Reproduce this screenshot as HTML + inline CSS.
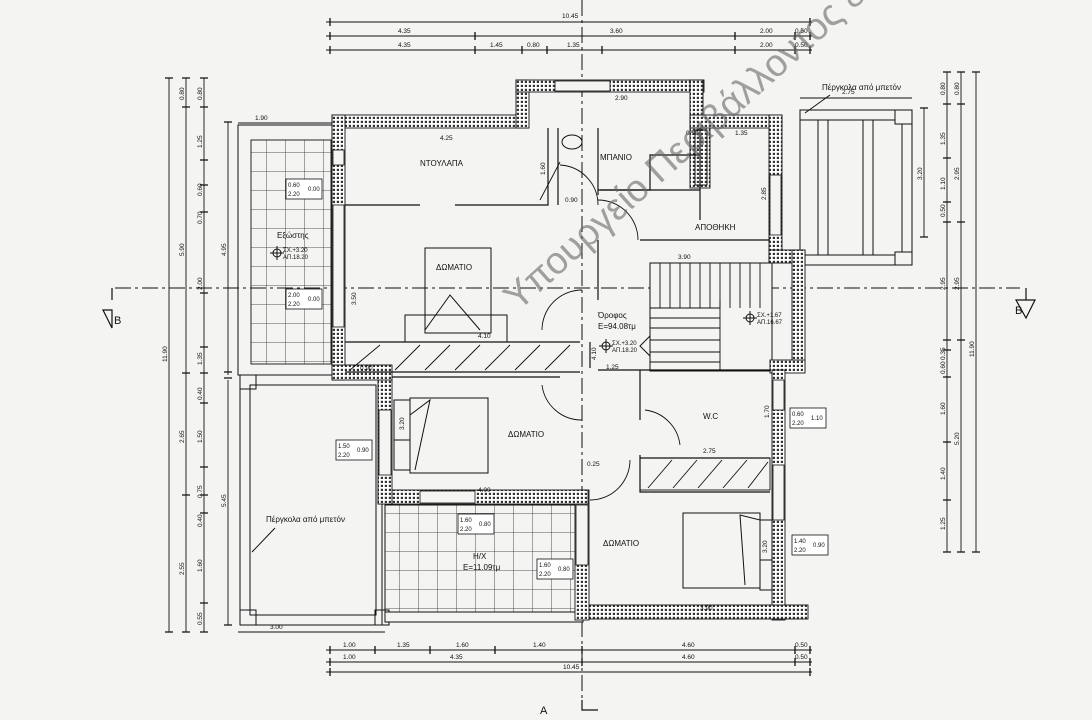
<!DOCTYPE html>
<html><head><meta charset="utf-8"><style>
html,body{margin:0;padding:0;background:#f4f4f2;}
svg{display:block}
text{font-family:"Liberation Sans",sans-serif;fill:#111}
.d{font-size:6.5px}
.l{font-size:8px}
</style></head><body>
<svg width="1092" height="720" viewBox="0 0 1092 720" xmlns="http://www.w3.org/2000/svg">
<defs>
<pattern id="w" width="4" height="4" patternUnits="userSpaceOnUse">
<rect width="4" height="4" fill="#fff"/><rect x="0.8" y="0.8" width="2.2" height="2.2" fill="#333"/>
</pattern>
<pattern id="g" width="19" height="19" patternUnits="userSpaceOnUse">
<path d="M0 0H19M0 0V19" stroke="#222" stroke-width="0.8" fill="none"/>
</pattern>
</defs>
<rect width="1092" height="720" fill="#f4f4f2"/>

<g stroke="#111" stroke-width="1" stroke-dasharray="16,4,3,4" fill="none">
<line x1="582" y1="0" x2="582" y2="700"/>
<line x1="115" y1="288" x2="1020" y2="288"/>
</g>
<g stroke="#111" stroke-width="1.2" fill="none">
<path d="M112 288V300M1026 288V300"/>
<path d="M103 310L112 328V310ZM1016 300L1035 300L1026 318Z"/>
<path d="M582 700V710H598"/>
</g>
<text x="114" y="324" font-size="11">B</text>
<text x="1015" y="314" font-size="11">B</text>
<text x="540" y="714" font-size="11">A</text>

<g stroke="#111" stroke-width="0.9">
<line x1="326" y1="22" x2="812" y2="22"/>
<line x1="326" y1="36" x2="812" y2="36"/>
<line x1="326" y1="50" x2="812" y2="50"/>
<line x1="326" y1="650" x2="812" y2="650"/>
<line x1="326" y1="662" x2="812" y2="662"/>
<line x1="326" y1="672" x2="812" y2="672"/>
<line x1="169" y1="78" x2="169" y2="632"/>
<line x1="186" y1="78" x2="186" y2="632"/>
<line x1="204" y1="78" x2="204" y2="632"/>
<line x1="228" y1="122" x2="228" y2="375"/>
<line x1="228" y1="380" x2="228" y2="625"/>
<line x1="947" y1="72" x2="947" y2="552"/>
<line x1="961" y1="72" x2="961" y2="552"/>
<line x1="976" y1="72" x2="976" y2="552"/>
<line x1="924" y1="108" x2="924" y2="237"/>
<line x1="238" y1="123" x2="332" y2="123"/>
<line x1="238" y1="632" x2="385" y2="632"/>
<line x1="800" y1="98" x2="912" y2="98"/>
</g>
<g stroke="#111" stroke-width="1.3">
<path d="M330 18v8M810 18v8M330 32v8M475 32v8M735 32v8M795 32v8M810 32v8M330 46v8M475 46v8M522 46v8M547 46v8M602 46v8M735 46v8M795 46v8M810 46v8"/>
<path d="M330 646v8M375 646v8M430 646v8M495 646v8M582 646v8M795 646v8M810 646v8M330 658v8M582 658v8M795 658v8M810 658v8M330 668v8M810 668v8"/>
<path d="M165 78h8M182 78h8M200 78h8M182 107h8M200 107h8M200 160h8M200 185h8M200 212h8M200 293h8M200 347h8M182 373h8M200 373h8M200 403h8M200 467h8M182 495h8M200 495h8M200 513h8M200 603h8M165 632h8M182 632h8M200 632h8"/>
<path d="M943 72h8M957 72h8M972 72h8M943 104h8M957 104h8M943 158h8M943 202h8M943 222h8M957 222h8M943 340h8M957 340h8M943 350h8M943 377h8M943 442h8M943 500h8M943 552h8M957 552h8M972 552h8"/>
<path d="M224 122h8M224 372h8M224 378h8M224 625h8M920 108h8M920 237h8"/>
</g>
<g class="d">
<text x="562" y="18">10.45</text>
<text x="398" y="33">4.35</text><text x="610" y="33">3.60</text><text x="760" y="33">2.00</text><text x="795" y="33">0.50</text>
<text x="398" y="47">4.35</text><text x="490" y="47">1.45</text><text x="527" y="47">0.80</text><text x="567" y="47">1.35</text><text x="760" y="47">2.00</text><text x="795" y="47">0.50</text>
<text x="343" y="647">1.00</text><text x="397" y="647">1.35</text><text x="456" y="647">1.60</text><text x="533" y="647">1.40</text><text x="682" y="647">4.60</text><text x="795" y="647">0.50</text>
<text x="343" y="659">1.00</text><text x="450" y="659">4.35</text><text x="682" y="659">4.60</text><text x="795" y="659">0.50</text>
<text x="563" y="669">10.45</text>
<text x="270" y="629">3.00</text>
<text x="255" y="120">1.90</text>
<text x="842" y="94">2.75</text>
</g>
<g class="d">
<text transform="translate(184,100) rotate(-90)">0.80</text>
<text transform="translate(202,100) rotate(-90)">0.80</text>
<text transform="translate(202,148) rotate(-90)">1.25</text>
<text transform="translate(202,196) rotate(-90)">0.60</text>
<text transform="translate(202,224) rotate(-90)">0.70</text>
<text transform="translate(184,256) rotate(-90)">5.90</text>
<text transform="translate(202,290) rotate(-90)">2.00</text>
<text transform="translate(226,256) rotate(-90)">4.95</text>
<text transform="translate(167,362) rotate(-90)">11.90</text>
<text transform="translate(202,365) rotate(-90)">1.35</text>
<text transform="translate(202,400) rotate(-90)">0.40</text>
<text transform="translate(202,443) rotate(-90)">1.50</text>
<text transform="translate(184,443) rotate(-90)">2.65</text>
<text transform="translate(202,498) rotate(-90)">0.75</text>
<text transform="translate(202,527) rotate(-90)">0.40</text>
<text transform="translate(226,507) rotate(-90)">5.45</text>
<text transform="translate(202,572) rotate(-90)">1.60</text>
<text transform="translate(184,575) rotate(-90)">2.55</text>
<text transform="translate(202,625) rotate(-90)">0.55</text>
<text transform="translate(945,95) rotate(-90)">0.80</text>
<text transform="translate(959,95) rotate(-90)">0.80</text>
<text transform="translate(945,145) rotate(-90)">1.35</text>
<text transform="translate(945,190) rotate(-90)">1.10</text>
<text transform="translate(959,180) rotate(-90)">2.95</text>
<text transform="translate(922,180) rotate(-90)">3.20</text>
<text transform="translate(945,217) rotate(-90)">0.50</text>
<text transform="translate(945,290) rotate(-90)">2.95</text>
<text transform="translate(959,290) rotate(-90)">2.95</text>
<text transform="translate(974,357) rotate(-90)">11.90</text>
<text transform="translate(945,360) rotate(-90)">0.35</text>
<text transform="translate(945,374) rotate(-90)">0.60</text>
<text transform="translate(945,415) rotate(-90)">1.60</text>
<text transform="translate(959,445) rotate(-90)">5.20</text>
<text transform="translate(945,480) rotate(-90)">1.40</text>
<text transform="translate(945,530) rotate(-90)">1.25</text>
</g>

<rect x="238" y="125" width="94" height="250" fill="none" stroke="#111" stroke-width="1"/>
<rect x="251" y="140" width="80" height="224" fill="url(#g)" stroke="#111" stroke-width="0.9"/>
<g fill="none" stroke="#111" stroke-width="1">
<rect x="240" y="375" width="142" height="250"/>
<rect x="250" y="385" width="126" height="230"/>
<rect x="240" y="375" width="16" height="14"/>
<rect x="240" y="610" width="16" height="15"/>
<rect x="375" y="610" width="14" height="15"/>
<line x1="252" y1="552" x2="275" y2="528"/>
</g>
<text x="266" y="522" class="l">Πέργκολα από μπετόν</text>
<g fill="none" stroke="#111" stroke-width="1">
<rect x="800" y="110" width="112" height="155"/>
<rect x="895" y="110" width="17" height="14"/><rect x="895" y="252" width="17" height="13"/>
<line x1="818" y1="120" x2="818" y2="255"/><line x1="828" y1="120" x2="828" y2="255"/>
<line x1="863" y1="120" x2="863" y2="255"/><line x1="873" y1="120" x2="873" y2="255"/>
<line x1="800" y1="120" x2="895" y2="120"/><line x1="800" y1="255" x2="895" y2="255"/>
<line x1="902" y1="124" x2="902" y2="252"/>
<line x1="805" y1="113" x2="830" y2="95"/>
</g>
<text x="822" y="90" class="l">Πέργκολα από μπετόν</text>
<rect x="385" y="505" width="198" height="115" fill="url(#g)" stroke="#111" stroke-width="1"/>
<rect x="385" y="612" width="198" height="10" fill="#f4f4f2" stroke="#111" stroke-width="1"/>

<rect x="650" y="263" width="122" height="108" fill="#f4f4f2" stroke="#111"/>
<g stroke="#111" stroke-width="0.9">
<path d="M660 263v45M670 263v45M680 263v45M690 263v45M700 263v45M710 263v45M720 263v45M730 263v45M740 263v45M750 263v45M760 263v45"/>
<path d="M650 308h70M650 318h70M650 328h70M650 340h70M650 352h70M650 362h70M720 300v71"/>
</g>

<g fill="url(#w)" stroke="#111" stroke-width="0.9">
<rect x="332" y="115" width="196" height="13"/>
<rect x="516" y="80" width="13" height="48"/>
<rect x="516" y="80" width="188" height="12"/>
<rect x="690" y="80" width="13" height="48"/>
<rect x="690" y="115" width="92" height="13"/>
<rect x="769" y="115" width="13" height="145"/>
<rect x="769" y="250" width="36" height="13"/>
<rect x="792" y="250" width="13" height="120"/>
<rect x="770" y="360" width="35" height="13"/>
<rect x="772" y="370" width="13" height="250"/>
<rect x="578" y="605" width="230" height="14"/>
<rect x="575" y="490" width="14" height="130"/>
<rect x="378" y="490" width="210" height="14"/>
<rect x="378" y="375" width="14" height="129"/>
<rect x="332" y="115" width="13" height="265"/>
<rect x="332" y="365" width="60" height="15"/>
<rect x="690" y="128" width="20" height="60"/>
</g>
<g fill="#f4f4f2" stroke="#111" stroke-width="0.8">
<rect x="333" y="150" width="11" height="15"/><rect x="333" y="205" width="11" height="122"/>
<rect x="379" y="410" width="12" height="65"/>
<rect x="420" y="491" width="55" height="12"/>
<rect x="576" y="505" width="12" height="60"/>
<rect x="773" y="380" width="11" height="30"/>
<rect x="773" y="465" width="11" height="55"/>
<rect x="770" y="175" width="11" height="60"/>
<rect x="555" y="81" width="55" height="10"/>
</g>

<g fill="none" stroke="#111" stroke-width="1.2">
<path d="M345 205H420M455 205H548V128"/>
<path d="M558 128V205"/>
<path d="M598 128V195M598 240V300M590 342V368"/>
<path d="M598 190H650V155H700"/>
<path d="M700 128V220M600 190H700"/>
<path d="M640 240H770"/>
<path d="M598 370H770M640 370V420M640 455V492H770"/>
<path d="M345 342H580M345 372H580"/>
<path d="M640 458H770"/>
<path d="M392 377H560"/>
</g>
<g stroke="#111" stroke-width="0.9" fill="none">
<path d="M350 370L380 345M395 370L420 345M425 370L450 345M455 370L480 345M485 370L510 345M515 370L540 345M545 370L570 345"/>
<rect x="640" y="458" width="130" height="32"/>
<path d="M648 488L672 460M673 488L697 460M698 488L722 460M723 488L747 460M748 488L768 462"/>
</g>
<g stroke="#111" stroke-width="0.9" fill="none">
<path d="M560 165A40 40 0 0 1 598 205"/>
<path d="M598 200A40 40 0 0 1 638 240"/>
<path d="M542 330A40 40 0 0 1 582 290"/>
<path d="M542 385A40 40 0 0 0 582 420"/>
<path d="M645 410A40 40 0 0 1 680 445"/>
<path d="M590 500A40 40 0 0 0 630 460"/>
<path d="M540 200L560 162"/>
</g>
<g stroke="#111" stroke-width="1" fill="none">
<rect x="425" y="248" width="66" height="85"/>
<path d="M425 330L450 295L480 330"/>
<rect x="405" y="315" width="102" height="27"/>
<rect x="410" y="398" width="78" height="75"/>
<path d="M410 415L430 400L415 470"/>
<rect x="394" y="400" width="16" height="40"/><rect x="394" y="440" width="16" height="30"/>
<rect x="683" y="513" width="77" height="75"/>
<path d="M760 520L740 515L745 585"/>
<rect x="760" y="520" width="12" height="40"/><rect x="760" y="560" width="12" height="30"/>
<ellipse cx="572" cy="142" rx="10" ry="7"/>
<rect x="695" y="130" width="12" height="55"/>
</g>

<g class="l">
<text x="420" y="166">ΝΤΟΥΛΑΠΑ</text>
<text x="600" y="160">ΜΠΑΝΙΟ</text>
<text x="695" y="230">ΑΠΟΘΗΚΗ</text>
<text x="436" y="270">ΔΩΜΑΤΙΟ</text>
<text x="508" y="437">ΔΩΜΑΤΙΟ</text>
<text x="603" y="546">ΔΩΜΑΤΙΟ</text>
<text x="703" y="419">W.C</text>
<text x="277" y="238">Εξώστης</text>
<text x="598" y="318">Όροφος</text>
<text x="598" y="329">E=94.08τμ</text>
<text x="473" y="559">Η/Χ</text>
<text x="463" y="570">E=11.09τμ</text>
</g>
<g class="d">
<text x="440" y="140">4.25</text><text x="615" y="100">2.90</text><text x="735" y="135">1.35</text><text x="686" y="135">0.90</text>
<text x="565" y="202">0.90</text><text x="678" y="259">3.90</text><text x="360" y="370">0.90</text><text x="606" y="369">1.25</text>
<text x="478" y="492">4.00</text><text x="703" y="453">2.75</text><text x="587" y="466">0.25</text><text x="700" y="610">3.90</text>
<text transform="translate(545,175) rotate(-90)">1.60</text>
<text transform="translate(766,200) rotate(-90)">2.85</text>
<text transform="translate(356,305) rotate(-90)">3.50</text>
<text transform="translate(404,430) rotate(-90)">3.20</text>
<text transform="translate(769,418) rotate(-90)">1.70</text>
<text transform="translate(767,553) rotate(-90)">3.20</text>
<text transform="translate(596,360) rotate(-90)">4.10</text>
<text x="478" y="338">4.10</text>
</g>
<g stroke="#111" stroke-width="0.8" fill="#fff">
<rect x="286" y="179" width="36" height="20"/><rect x="286" y="289" width="36" height="20"/>
<rect x="336" y="440" width="36" height="20"/><rect x="458" y="514" width="36" height="20"/>
<rect x="537" y="559" width="36" height="20"/><rect x="790" y="408" width="36" height="20"/>
<rect x="792" y="535" width="36" height="20"/>
</g>
<g font-size="6">
<text x="288" y="187">0.60</text><text x="288" y="196">2.20</text><text x="308" y="191">0.00</text>
<text x="288" y="297">2.00</text><text x="288" y="306">2.20</text><text x="308" y="301">0.00</text>
<text x="338" y="448">1.50</text><text x="338" y="457">2.20</text><text x="357" y="452">0.90</text>
<text x="460" y="522">1.60</text><text x="460" y="531">2.20</text><text x="479" y="526">0.80</text>
<text x="539" y="567">1.60</text><text x="539" y="576">2.20</text><text x="558" y="571">0.80</text>
<text x="792" y="416">0.60</text><text x="792" y="425">2.20</text><text x="811" y="420">1.10</text>
<text x="794" y="543">1.40</text><text x="794" y="552">2.20</text><text x="813" y="547">0.90</text>
<text x="283" y="252">ΣΧ.+3.20</text><text x="283" y="259">ΑΠ.18.20</text>
<text x="757" y="317">ΣΧ.+1.67</text><text x="757" y="324">ΑΠ.16.67</text>
<text x="612" y="345">ΣΧ.+3.20</text><text x="612" y="352">ΑΠ.18.20</text>
</g>
<g stroke="#111" fill="none">
<circle cx="277" cy="253" r="4"/><circle cx="750" cy="318" r="4"/><circle cx="606" cy="346" r="4"/>
<path d="M270 253h14M277 246v14M743 318h14M750 311v14M599 346h14M606 339v14M650 336L640 346L650 356Z"/>
</g>

<text transform="translate(518,312) rotate(-42)" font-size="38" style="fill:#666;fill-opacity:0.6;font-family:'Liberation Sans',sans-serif">Υπουργείο Περιβάλλοντος &amp;</text>
</svg>
</body></html>
